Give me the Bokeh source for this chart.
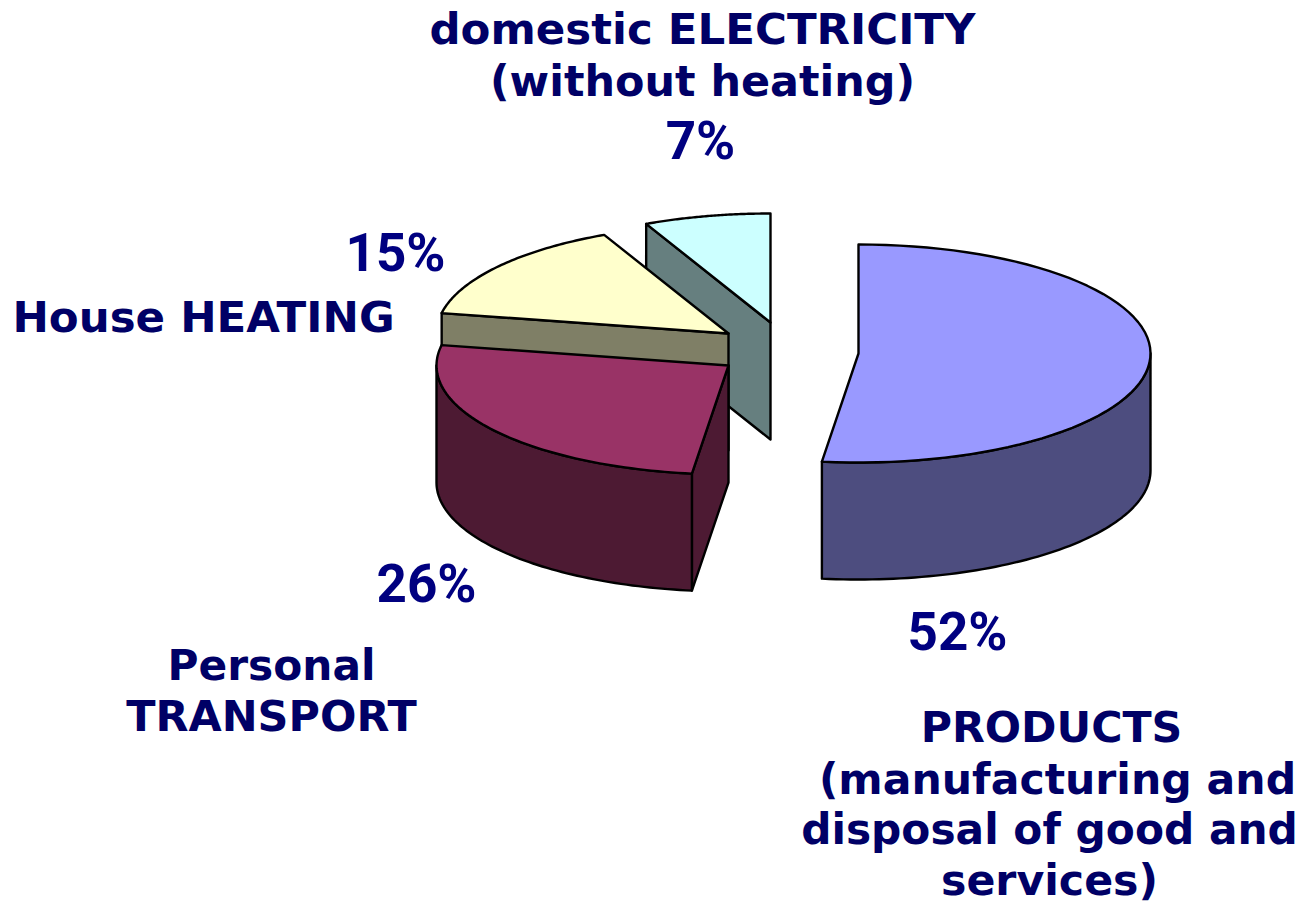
import numpy as np
from bokeh.plotting import figure
from bokeh.core.properties import value
from bokeh.embed import file_html
from bokeh.resources import INLINE

# data
names = ["PRODUCTS", "Personal TRANSPORT", "House HEATING", "domestic ELECTRICITY"]
shares = [52, 26, 15, 7]
share_labels = ["52%", "26%", "15%", "7%"]
top_colors = ["#9999FF", "#993366", "#FFFFCC", "#CCFFFF"]
side_colors = ["#4D4D7F", "#4D1A33", "#7F7F66", "#667F7F"]

# layout (reference pixels)
apex_x = [858, 728, 728, 770]
apex_y = [353, 365, 333, 322]
RX, RY, DEPTH = 292, 109, 117
TXT = "#000066"
PCT = "#000080"

p = figure(width=1302, height=903, x_range=(0, 1302), y_range=(903, 0),
           output_backend="svg", toolbar_location=None, min_border=0,
           background_fill_color="white", border_fill_color="white")
p.axis.visible = False
p.grid.visible = False
p.outline_line_color = None

edges = np.cumsum([0] + shares) / sum(shares) * 2 * np.pi


def rim(i, a0, a1, n=70):
    t = np.linspace(a0, a1, n)
    return apex_x[i] + RX * np.sin(t), apex_y[i] - RY * np.cos(t)


def patch(x, y, color):
    p.patch(list(x), list(y), fill_color=color, line_color="black",
            line_width=2.4, line_join="round")


def inner_face(i, a):
    x = apex_x[i] + RX * np.sin(a)
    y = apex_y[i] - RY * np.cos(a)
    patch([apex_x[i], x, x, apex_x[i]],
          [apex_y[i], y, y + DEPTH, apex_y[i] + DEPTH], side_colors[i])


def outer_face(i, a0, a1):
    x, y = rim(i, a0, a1)
    patch(np.r_[x, x[::-1]], np.r_[y, (y + DEPTH)[::-1]], side_colors[i])


def top(i):
    x, y = rim(i, edges[i], edges[i + 1])
    patch(np.r_[apex_x[i], x], np.r_[apex_y[i], y], top_colors[i])


# back to front
inner_face(3, edges[3])
top(3)
inner_face(2, edges[2])
top(2)
inner_face(1, edges[1])
outer_face(1, edges[1], 1.5 * np.pi)
top(1)
outer_face(0, 0.5 * np.pi, edges[1])
top(0)

# text labels
lab_text = ["domestic ELECTRICITY", "(without heating)", "House HEATING",
            "Personal", "TRANSPORT", "PRODUCTS", "(manufacturing and",
            "disposal of good and", "services)"]
lab_size = [43.5, 42.9, 43.5, 42.3, 42.9, 42.7, 42.6, 42.3, 42.7]
lab_x = [702, 702, 203, 271, 271, 1051, 1057, 1049, 1049]
lab_y = [28, 80, 316, 665, 715, 726, 778, 829, 879]
for t, s, x, y in zip(lab_text, lab_size, lab_x, lab_y):
    p.text([x], [y], text=[t], text_font=value("DejaVu Sans"),
           text_font_style="bold", text_font_size=f"{s}px", text_color=TXT,
           text_align="center", text_baseline="alphabetic")

pct_x = [957, 426, 395, 700]
pct_y = [631, 583, 252, 140]
p.text(pct_x, pct_y, text=share_labels, text_font=value("Roboto"),
       text_font_style="bold", text_font_size="53px", text_color=PCT,
       text_align="center", text_baseline="alphabetic")

open("out.html", "w").write(file_html(p, INLINE))
